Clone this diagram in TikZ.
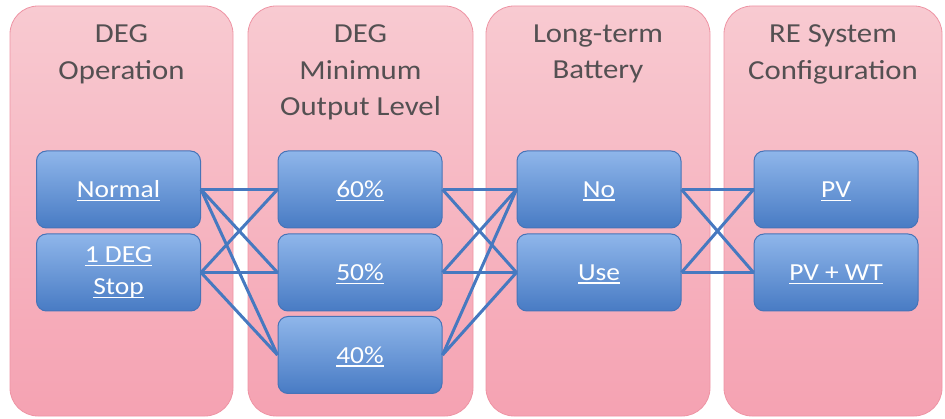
\documentclass[tikz,border=0pt]{standalone}
\usepackage{fontspec}
\setmainfont{Carlito}[FakeStretch=1.12]
\definecolor{pinkT}{RGB}{248,202,209}
\definecolor{pinkB}{RGB}{245,162,178}
\definecolor{pinkD}{RGB}{238,148,164}
\definecolor{blueT}{RGB}{143,182,234}
\definecolor{blueB}{RGB}{72,123,196}
\definecolor{blueD}{RGB}{70,116,184}
\definecolor{lineC}{RGB}{70,121,192}
\definecolor{titleC}{RGB}{84,80,82}
\newsavebox\myulbox
\newcommand\myul[1]{\sbox\myulbox{#1}\rlap{\raisebox{-3.5pt}[0pt][0pt]{\rule{\wd\myulbox}{1.3pt}}}\usebox\myulbox}
\tikzset{
  colbox/.style={rectangle, rounded corners=28pt, inner sep=0pt, minimum height=410pt,
    top color=pinkT, bottom color=pinkB, draw=pinkD, line width=0.8pt},
  coltitle/.style={anchor=north, inner sep=0pt, align=center, text=titleC,
    font=\fontsize{27.5}{36.5}\selectfont},
  optbox/.style={rectangle, rounded corners=10pt, inner sep=0pt, minimum width=164pt,
    minimum height=77pt, top color=blueT, bottom color=blueB, draw=blueD, line width=1pt,
    text=white, align=center, font=\fontsize{24.5}{32}\selectfont},
  link/.style={draw=lineC, line width=3pt}
}
\begin{document}
\begin{tikzpicture}[x=1pt,y=-1pt]
\useasboundingbox (0,0) rectangle (945,419);
% columns
\node[colbox, minimum width=223pt] (c1) at (121.5,211) {};
\node[colbox, minimum width=225pt] (c2) at (360.5,211) {};
\node[colbox, minimum width=224pt] (c3) at (598,211) {};
\node[colbox, minimum width=218pt] (c4) at (833,211) {};
% titles
\node[coltitle] (t1) at (121.5,24.6) {DEG\\Operation};
\node[coltitle] (t2) at (360.5,24.6) {DEG\\Minimum\\Output Level};
\node[coltitle] (t3) at (598,24.6) {Long-term\\Battery};
\node[coltitle] (t4) at (833,24.6) {RE System\\Configuration};
% option boxes
\node[optbox] (n) at (118.5,189.5) {\myul{Normal}};
\node[optbox] (s) at (118.5,272.5) {\myul{1 DEG}\\\myul{Stop}};
\node[optbox] (p60) at (360,189.5) {\myul{60\%}};
\node[optbox] (p50) at (360,272.5) {\myul{50\%}};
\node[optbox] (p40) at (360,355) {\myul{40\%}};
\node[optbox] (bn) at (599,189.5) {\myul{No}};
\node[optbox] (bu) at (599,272.5) {\myul{Use}};
\node[optbox] (pv) at (836,189.5) {\myul{PV}};
\node[optbox] (pw) at (836,272.5) {\myul{PV + WT}};
% links
\foreach \a in {n,s}{\foreach \b in {p60,p50,p40}{\draw[link] (\a.east) -- (\b.west);}}
\foreach \a in {p60,p50,p40}{\foreach \b in {bn,bu}{\draw[link] (\a.east) -- (\b.west);}}
\foreach \a in {bn,bu}{\foreach \b in {pv,pw}{\draw[link] (\a.east) -- (\b.west);}}
\end{tikzpicture}
\end{document}
